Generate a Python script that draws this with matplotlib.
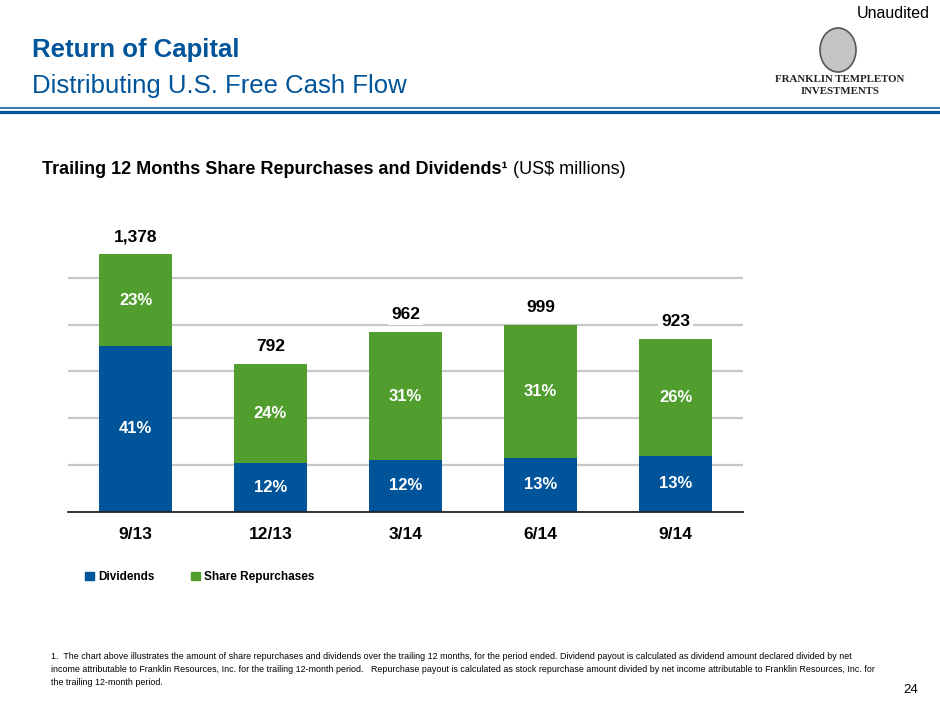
import matplotlib.pyplot as plt
import numpy as np
from matplotlib.lines import Line2D
from matplotlib.patches import Ellipse, Patch

# values (US$ millions)
periods = ['9/13', '12/13', '3/14', '6/14', '9/14']
dividends = [886, 260, 275, 289, 300]
repurchases = [492, 532, 687, 710, 623]
totals = [1378, 792, 962, 999, 923]
div_pct = ['41%', '12%', '12%', '13%', '13%']
rep_pct = ['23%', '24%', '31%', '31%', '26%']

BLUE = '#00549a'
GREEN = '#519e2f'
SANS = ['Liberation Sans', 'DejaVu Sans']

W, H = 940, 705
fig = plt.figure(figsize=(9.4, 7.05), dpi=100)


def fx(px):
    return px / W


def fy(py):
    return 1 - py / H


# chart
ax = fig.add_axes([fx(68), fy(511.7), (743 - 68) / W, 280.5 / H])
x = np.arange(len(periods))
b1 = ax.bar(x, dividends, 0.54, color=BLUE, zorder=2)
b2 = ax.bar(x, repurchases, 0.54, bottom=dividends, color=GREEN, zorder=2)
ax.set_xlim(-0.5, 4.5)
ax.set_ylim(0, 1500)
ax.set_yticks([250, 500, 750, 1000, 1250])
ax.yaxis.grid(True, color='#c8c8c8', lw=1.6)
ax.set_axisbelow(True)
ax.tick_params(axis='y', left=False, labelleft=False)
for s in ['top', 'right', 'left']:
    ax.spines[s].set_visible(False)
ax.spines['bottom'].set_color('#222222')
ax.spines['bottom'].set_linewidth(1.3)
ax.spines['bottom'].set_zorder(3)

ax.set_xticks(x, periods)
ax.tick_params(axis='x', length=0, pad=11)
for lab in ax.get_xticklabels():
    lab.set_family(SANS)
    lab.set_fontweight('bold')
    lab.set_fontsize(12.5)

lbl = dict(color='white', fontweight='bold', fontsize=12, family=SANS)
ax.bar_label(b1, labels=div_pct, label_type='center', **lbl)
ax.bar_label(b2, labels=rep_pct, label_type='center', **lbl)
ax.bar_label(b2, labels=[f'{t:,}' for t in totals], padding=7,
             fontweight='bold', fontsize=12.5, family=SANS,
             bbox=dict(facecolor='white', edgecolor='none', pad=2))

handles = [Patch(color=BLUE, label='Dividends'),
           Patch(color=GREEN, label='Share Repurchases')]
fig.legend(handles=handles, loc='center left',
           bbox_to_anchor=(fx(85), fy(577)), ncol=2, frameon=False,
           handlelength=0.75, handleheight=0.75, handletextpad=0.35,
           columnspacing=3.1, borderpad=0, borderaxespad=0,
           prop=dict(family=SANS, weight='bold', size=8.5))

# header
fig.text(fx(32), fy(56.7), 'Return of Capital', color=BLUE, fontsize=18.5,
         fontweight='bold', family=SANS, va='baseline')
fig.text(fx(32), fy(92.7), 'Distributing U.S. Free Cash Flow', color=BLUE,
         fontsize=18.5, family=SANS, va='baseline')
fig.text(fx(930), fy(14), 'Unaudited', fontsize=11.5, family=SANS,
         ha='right', va='center')
fig.add_artist(Line2D([0, 1], [fy(107.8), fy(107.8)], color=BLUE, lw=1.1,
                      transform=fig.transFigure))
fig.add_artist(Line2D([0, 1], [fy(111.8), fy(111.8)], color=BLUE, lw=2.3,
                      transform=fig.transFigure))

# logo stand-in
fig.add_artist(Ellipse((fx(838), fy(50)), 36 / W, 44 / H,
                       facecolor='#c4c4c4', edgecolor='#555555', lw=1.2,
                       transform=fig.transFigure))
fig.text(fx(840), fy(80), 'FRANKLIN TEMPLETON', fontsize=7.8,
         family=['Liberation Serif', 'DejaVu Serif'], fontweight='bold',
         ha='center', va='center', color='#222222')
fig.text(fx(840), fy(91), 'INVESTMENTS', fontsize=7.8,
         family=['Liberation Serif', 'DejaVu Serif'], fontweight='bold',
         ha='center', va='center', color='#222222')

# chart title
t1 = fig.text(fx(42), fy(170), 'Trailing 12 Months Share Repurchases and Dividends\u00b9',
              fontsize=13, fontweight='bold', family=SANS, va='center')
ax.annotate(' (US$ millions)', xy=(1, 0.5), xycoords=t1, va='center',
            fontsize=13, family=SANS, annotation_clip=False)

# footnote
note = ('1.  The chart above illustrates the amount of share repurchases and dividends over the trailing 12 months, '
        'for the period ended. Dividend payout is calculated as dividend amount declared divided by net\n'
        'income attributable to Franklin Resources, Inc. for the trailing 12-month period.   Repurchase payout is '
        'calculated as stock repurchase amount divided by net income attributable to Franklin Resources, Inc. for\n'
        'the trailing 12-month period.')
fig.text(fx(51), fy(652), note, fontsize=6.4, family=SANS, va='top',
         linespacing=1.55)
fig.text(fx(918), fy(690), '24', fontsize=9.5, family=SANS, ha='right',
         va='center')

fig.savefig('out.png', dpi=100)
